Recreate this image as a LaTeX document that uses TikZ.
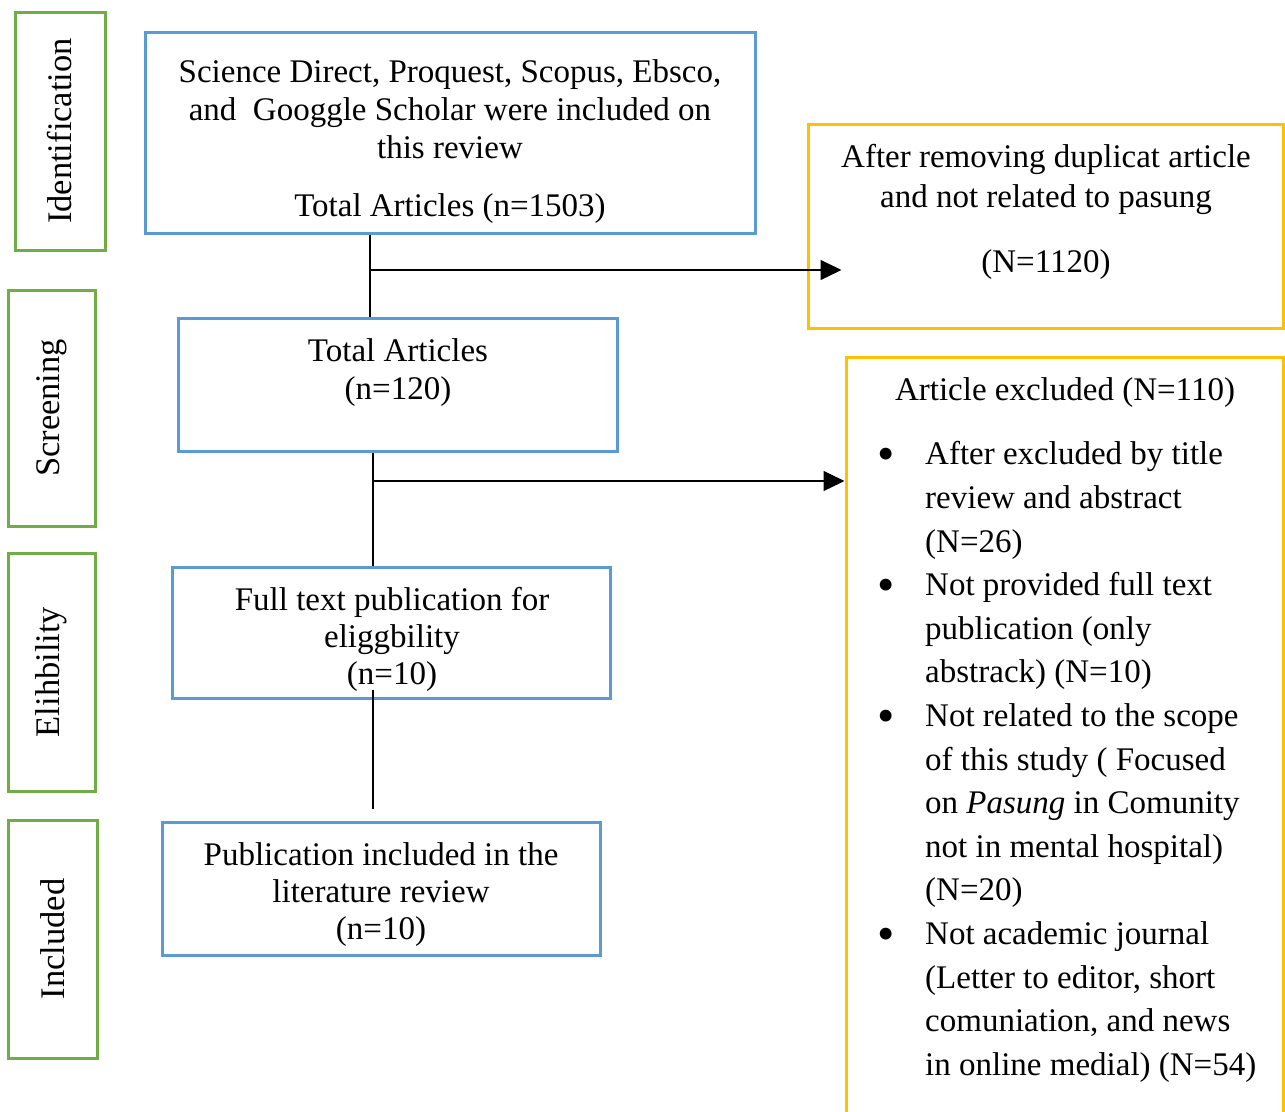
\documentclass[tikz,border=0pt]{standalone}
\usepackage{fontspec}
\setmainfont{Liberation Serif}
\usepackage{graphicx}
\usepackage{tikz}
\usetikzlibrary{positioning,arrows.meta}
\definecolor{boxblue}{RGB}{91,155,213}
\definecolor{boxgreen}{RGB}{112,173,71}
\definecolor{boxyellow}{RGB}{255,192,0}
\newcommand{\blt}{\makebox[48pt][l]{\raisebox{-5.5pt}{\scalebox{1.5}{\textbullet}}}}
\newcommand{\ind}{\hspace*{48pt}}

\begin{document}
\begin{tikzpicture}[x=1pt,y=-1pt]
\tikzstyle{every node}+=[inner sep=0pt, font=\fontsize{33}{38}\selectfont]
\tikzstyle{stage}=[draw=boxgreen, line width=3pt, rotate=90, font=\fontsize{34.5}{38}\selectfont]
\tikzstyle{flow}=[draw=boxblue, line width=3pt]
\tikzstyle{side}=[draw=boxyellow, line width=3pt]
\tikzstyle{txt}=[align=center]
\tikzstyle{conn}=[black, line width=1.2pt]
\tikzstyle{arr}=[-{Triangle[length=21pt,width=20pt]}]
\useasboundingbox (0,0) rectangle (1285,1111);
% stages
\node[stage, minimum width=238pt, minimum height=90pt] (ident) at (60,131) {Identification};
\node[stage, minimum width=236pt, minimum height=87pt] (screen) at (51.5,408) {Screening};
\node[stage, minimum width=238pt, minimum height=87pt] (elig) at (51.5,672) {Elihbility};
\node[stage, minimum width=238pt, minimum height=89pt] (incl) at (52.5,939) {Included};
% boxes
\node[flow, minimum width=610pt, minimum height=201pt] (src) at (450,132.5) {};
\node[flow, minimum width=439pt, minimum height=133pt] (tot) at (397.5,384.5) {};
\node[flow, minimum width=438pt, minimum height=131pt] (full) at (391,632.5) {};
\node[flow, minimum width=438pt, minimum height=133pt] (pub) at (381,888.5) {};
\node[side, minimum width=475pt, minimum height=204pt] (rem) at (1045.5,226) {};
\node[side, minimum width=437pt, minimum height=763pt] (exc) at (1064.5,738.5) {};
% texts
\node[txt] (srct) at (450,109) {Science Direct, Proquest, Scopus, Ebsco,\\and\ \ Googgle Scholar were included on\\this review};
\node[txt] (srcn) at (450,209) {Total Articles (n=1503)};
\node[txt] (remt) at (1046,179) {After removing duplicat article\\[2pt]and not related to pasung};
\node[txt] (remn) at (1046,265) {(N=1120)};
\node[txt] (tott) at (398,373) {Total Articles\\(n=120)};
\node[txt] (fullt) at (392,639) {Full text publication for\\[-1pt]eliggbility\\[-1pt](n=10)};
\node[txt] (pubt) at (381,895) {Publication included in the\\[-1pt]literature review\\[-1pt](n=10)};
\node[txt] (exch) at (1065,393) {Article excluded (N=110)};
\node[anchor=north west, align=left, font=\fontsize{33}{43.6}\selectfont] (excl) at (877,441.5) {%
\blt After excluded by title\\
\ind review and abstract\\
\ind (N=26)\\
\blt Not provided full text\\
\ind publication (only\\
\ind abstrack) (N=10)\\
\blt Not related to the scope\\
\ind of this study ( Focused\\
\ind on \textit{Pasung} in Comunity\\
\ind not in mental hospital)\\
\ind (N=20)\\
\blt Not academic journal\\
\ind (Letter to editor, short\\
\ind comuniation, and news\\
\ind in online medial) (N=54)};
% connectors
\coordinate (j1) at (370,270);
\coordinate (j2) at (373,481);
\draw[conn] (j1 |- src.south) -- (j1 |- tot.north);
\draw[conn, arr] (j1) -- ([xshift=35pt]rem.west |- j1);
\draw[conn] (j2 |- tot.south) -- (j2 |- full.north);
\draw[conn, arr] (j2) -- (exc.west |- j2);
\draw[conn] ([yshift=10pt]j2 |- full.south) -- ([yshift=12pt]j2 |- pub.north);
\end{tikzpicture}
\end{document}
